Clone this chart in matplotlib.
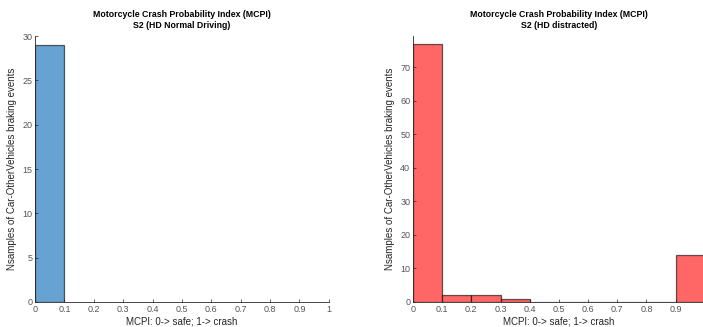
import numpy as np
import matplotlib
matplotlib.use("Agg")
import matplotlib.pyplot as plt

plt.rcParams["font.family"] = ["Liberation Sans", "DejaVu Sans"]

# histogram bins (MCPI) and counts per scenario
bin_edges = [0.0, 0.1, 0.2, 0.3, 0.4, 0.5, 0.6, 0.7, 0.8, 0.9, 1.0]
counts_normal = [29, 0, 0, 0, 0, 0, 0, 0, 0, 0]
counts_distracted = [77, 2, 2, 1, 0, 0, 0, 0, 0, 14]
xtick_labels = ["0", "0.1", "0.2", "0.3", "0.4", "0.5", "0.6", "0.7", "0.8", "0.9", "1"]

titles = ["Motorcycle Crash Probability Index (MCPI)\nS2 (HD Normal Driving)",
          "Motorcycle Crash Probability Index (MCPI)\nS2 (HD distracted)"]
xlabel = "MCPI: 0-> safe; 1-> crash"
ylabel = "Nsamples of Car-OtherVehicles braking events"

grey = "#262626"


def draw_hist(ax, counts, color, ylim, yticks, draw_zero, labels):
    edges = np.array(bin_edges)
    widths = np.diff(edges)
    for left, w, c in zip(edges[:-1], widths, counts):
        if c == 0 and not draw_zero:
            continue
        ax.bar(left, c, width=w, align="edge", color=color,
               edgecolor=(0, 0, 0, 0.6), linewidth=0.9)
    ax.set_xlim(0, 1)
    ax.set_ylim(*ylim)
    ax.set_xticks(np.arange(0, 1.01, 0.1))
    ax.set_xticklabels(labels)
    ax.set_yticks(yticks)
    for s in ["top", "right"]:
        ax.spines[s].set_visible(False)
    for s in ["left", "bottom"]:
        ax.spines[s].set_color(grey)
        ax.spines[s].set_linewidth(0.6)
    ax.tick_params(direction="in", length=2.5, width=0.5, colors=grey,
                   labelsize=6.5, pad=2)
    ax.tick_params(labelcolor="#555555")
    ax.set_xlabel(xlabel, fontsize=7, color=grey, labelpad=2)
    ax.set_ylabel(ylabel, fontsize=7, color=grey, labelpad=4)


fig = plt.figure(figsize=(7.03, 3.27), dpi=100)
ax1 = fig.add_axes([0.0498, 0.0765, 0.418, 0.813])
ax2 = fig.add_axes([0.5875, 0.0765, 0.415, 0.813])

draw_hist(ax1, counts_normal, "#66a3d2", (0, 30), np.arange(0, 31, 5), False,
          xtick_labels)
# the right panel is cropped at the figure edge, so its last label is not shown
draw_hist(ax2, counts_distracted, "#ff6666", (0, 79.3), np.arange(0, 71, 10), True,
          xtick_labels[:-1] + [""])

for ax, t in zip([ax1, ax2], titles):
    ax.set_title(t, fontsize=6.3, fontweight="bold", color="black", pad=6,
                 linespacing=1.3)

fig.savefig("out.png", dpi=100)
